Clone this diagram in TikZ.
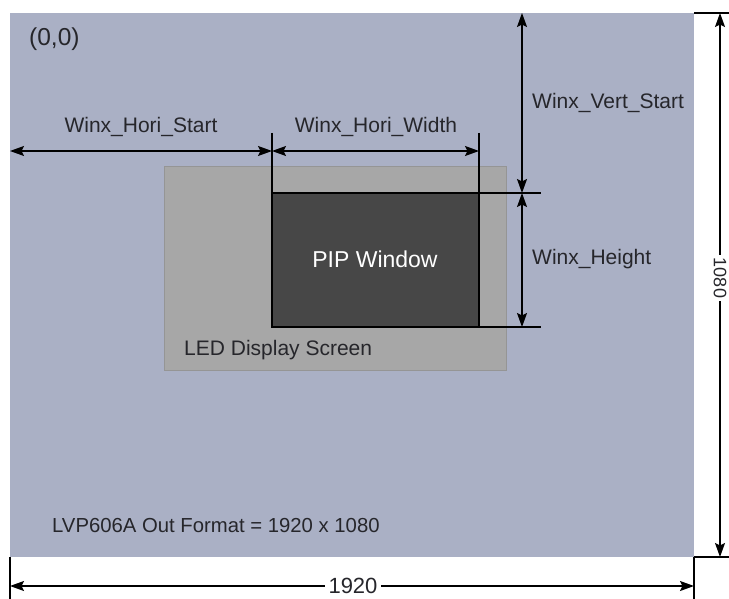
\documentclass[tikz,border=0pt]{standalone}
\usepackage{fontspec}
\setmainfont{Liberation Sans}
\usetikzlibrary{arrows.meta}
\definecolor{bgblue}{HTML}{AAB0C5}
\definecolor{ledgray}{HTML}{A7A7A7}
\definecolor{ledborder}{HTML}{959595}
\definecolor{pipgray}{HTML}{474747}
\definecolor{txt}{HTML}{26262B}
\tikzset{
  dim/.style={line width=1.4pt, {Stealth[length=14pt,width=10pt,inset=2.5pt]}-{Stealth[length=14pt,width=10pt,inset=2.5pt]}},
  ext/.style={line width=1.2pt},
  lbl/.style={text=txt, font=\fontsize{21}{23}\selectfont, inner sep=0pt},
}
\begin{document}
\begin{tikzpicture}[x=1pt,y=-1pt]
\useasboundingbox (0,0) rectangle (729,599);
\fill[white] (0,0) rectangle (729,599);
% frame
\coordinate (TL) at (10,13);
\coordinate (BR) at (694,557);
\fill[bgblue] (TL) rectangle (BR);
% LED screen
\coordinate (LTL) at (164,166);
\coordinate (LBR) at (506,370);
\draw[ledborder, fill=ledgray, line width=0.8pt] (LTL) rectangle (LBR);
% PIP window
\coordinate (PTL) at (272,193);
\coordinate (PBR) at (479,327);
\fill[pipgray] (PTL) rectangle (PBR);
\draw[ext] (272,193) -- (272,327) -- (479,327);
% extension lines
\coordinate (Ext1a) at (272,133);
\coordinate (Ext2a) at (479,133);
\coordinate (Ext3b) at (541,193);
\coordinate (Ext4b) at (541,327);
\draw[ext] (Ext1a) -- (PTL);
\draw[ext] (Ext2a) -- (PBR);
\draw[ext] (PTL) -- (Ext3b);
\draw[ext] (272,327) -- (Ext4b);
% horizontal dims
\coordinate (HL) at (10,151);
\coordinate (HM) at (272,151);
\coordinate (HR) at (479,151);
\draw[dim] (HL) -- (HM);
\draw[dim] (HM) -- (HR);
% vertical dims
\coordinate (VT) at (522,13);
\coordinate (VM) at (522,193);
\coordinate (VB) at (522,327);
\draw[dim] (VT) -- (VM);
\draw[dim] (VM) -- (VB);
% outer dims
\coordinate (OT) at (720,13);
\coordinate (OB) at (720,557);
\draw[ext] (694,13) -- (729,13);
\draw[ext] (694,557) -- (729,557);
\draw[ext] (10,557) -- (10,599);
\draw[ext] (694,557) -- (694,599);
\draw[dim] (OT) -- (OB);
\coordinate (WL) at (10,586);
\coordinate (WR) at (694,586);
\draw[dim] (WL) -- (WR);
\node[lbl, fill=white, inner xsep=4pt, font=\fontsize{22}{24}\selectfont] (w1920) at (353,586) {1920};
\node[lbl, fill=white, inner ysep=3pt, inner xsep=3pt, rotate=-90, font=\fontsize{18}{20}\selectfont] (h1080) at (720,278) {1080};
% labels
\node[lbl, anchor=base west, font=\fontsize{24.5}{26}\selectfont] (origin) at (29,46) {(0,0)};
\node[lbl, anchor=base] (hs) at (141,133) {Winx\_Hori\_Start};
\node[lbl, anchor=base] (hw) at (376,133) {Winx\_Hori\_Width};
\node[lbl, anchor=base west] (vs) at (532,109) {Winx\_Vert\_Start};
\node[lbl, anchor=base west] (wh) at (532,265) {Winx\_Height};
\node[lbl, anchor=base, text=white, font=\fontsize{23}{25}\selectfont] (pip) at (375,267) {PIP Window};
\node[lbl, anchor=base west] (led) at (184,355) {LED Display Screen};
\node[lbl, anchor=base west, font=\fontsize{20.3}{22}\selectfont] (fmt) at (52,532) {LVP606A Out Format = 1920 x 1080};
\end{tikzpicture}
\end{document}
